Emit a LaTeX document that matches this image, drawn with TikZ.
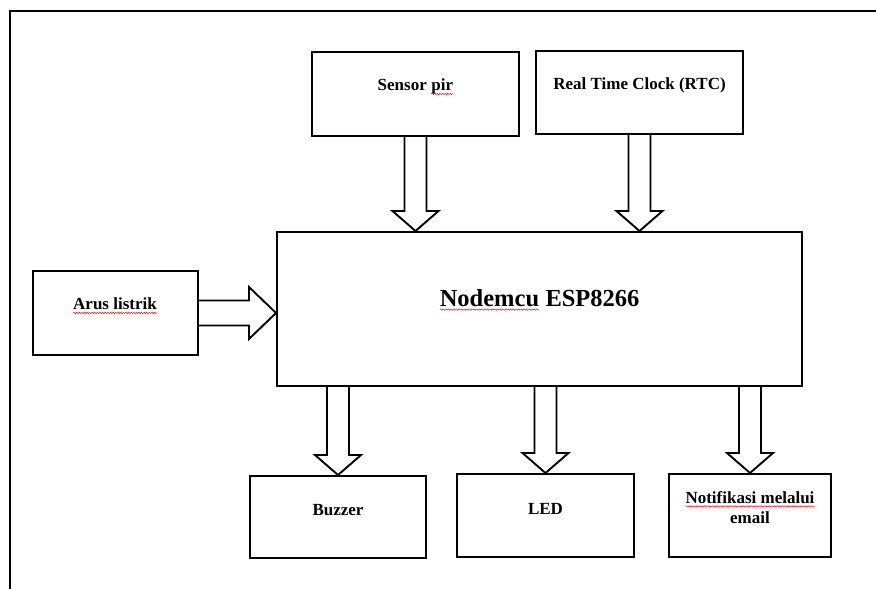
\documentclass[tikz,border=0pt]{standalone}
\usepackage{fontspec}
\setmainfont{Liberation Serif}
\usetikzlibrary{calc,decorations.pathmorphing}
\newcommand\redwave[1]{\tikz[baseline=(wv.base)]{\node[inner sep=0pt,outer sep=0pt] (wv) {#1};
  \draw[red,line width=0.45pt,decorate,decoration={snake,amplitude=0.7pt,segment length=2.6pt}]
  ([yshift=-3pt]wv.base west) -- ([yshift=-3pt]wv.base east);}}
\begin{document}
\begin{tikzpicture}[x=1pt,y=-1pt,
  box/.style={draw,line width=2pt,inner sep=0pt},
  lbl/.style={font=\fontsize{17}{20}\selectfont\bfseries,align=center,yshift=7pt},
  mainlbl/.style={font=\fontsize{24.5}{28}\selectfont\bfseries,align=center,yshift=9pt},
  dblk/.style={line width=1.9pt,to path={let \p1=(\tikztostart),\p2=(\tikztotarget) in
     (\x1-11pt,\y1) -- (\x1-11pt,\y2+20pt) -- (\x1-23pt,\y2+20pt) -- (\x1,\y2)
     -- (\x1+23pt,\y2+20pt) -- (\x1+11pt,\y2+20pt) -- (\x1+11pt,\y1)}},
  rblk/.style={line width=1.9pt,to path={let \p1=(\tikztostart),\p2=(\tikztotarget) in
     (\x1,\y1+12.5pt) -- (\x2-27pt,\y1+12.5pt) -- (\x2-27pt,\y1+26pt) -- (\x2,\y1)
     -- (\x2-27pt,\y1-26pt) -- (\x2-27pt,\y1-12.5pt) -- (\x1,\y1-12.5pt)}}]
\useasboundingbox (0,0) rectangle (876,589);
\draw[line width=2.2pt] (10,589) -- (10,11) -- (876,11);

\node[box,minimum width=207pt,minimum height=84pt,label={[lbl]center:Sensor \redwave{pir}}] (sensor) at (415.5,94) {};
\node[box,minimum width=207pt,minimum height=83pt,label={[lbl]center:Real Time Clock (RTC)}] (rtc) at (639.5,92.5) {};
\node[box,minimum width=165pt,minimum height=84pt,label={[lbl]center:\redwave{Arus listrik}}] (arus) at (115,313) {};
\node[box,minimum width=525pt,minimum height=154pt,label={[mainlbl]center:\redwave{Nodemcu} ESP8266}] (main) at (539.5,309) {};
\node[box,minimum width=176pt,minimum height=82pt,label={[lbl]center:Buzzer}] (buzzer) at (338,517) {};
\node[box,minimum width=177pt,minimum height=83pt,label={[lbl]center:LED}] (led) at (545.5,515.5) {};
\node[box,minimum width=162pt,minimum height=83pt,label={[lbl,yshift=1pt]center:\redwave{Notifikasi melalui}\\email}] (notif) at (750,515.5) {};

\draw[dblk] (sensor.south) to (sensor.south |- main.north);
\draw[dblk] (rtc.south) to (rtc.south |- main.north);
\draw[rblk] (arus.east) to (arus.east -| main.west);
\draw[dblk] (buzzer.north |- main.south) to (buzzer.north);
\draw[dblk] (led.north |- main.south) to (led.north);
\draw[dblk] (notif.north |- main.south) to (notif.north);
\end{tikzpicture}
\end{document}
